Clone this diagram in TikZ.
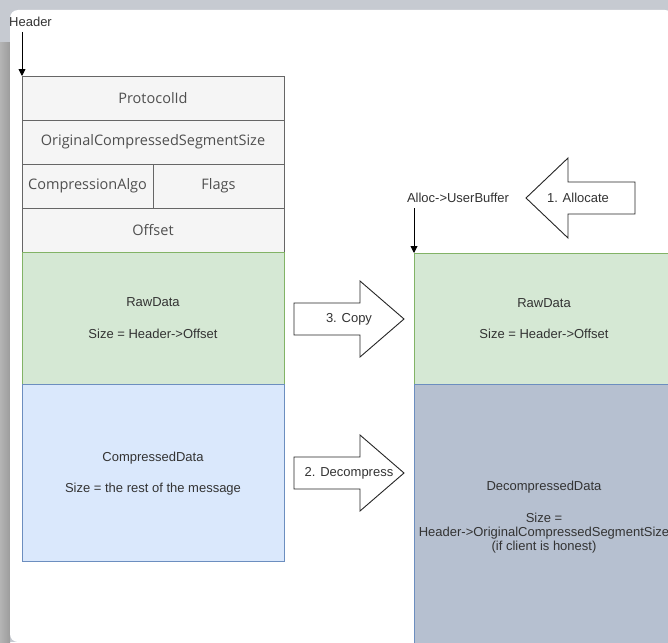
\documentclass[tikz,border=0pt]{standalone}
\usepackage{fontspec}
\setmainfont{Liberation Sans}
\newfontfamily\fieldfont{Open Sans}
\usetikzlibrary{arrows.meta}

\definecolor{frame}{HTML}{C6CAD1}
\definecolor{edgedark}{HTML}{9C9C9C}
\definecolor{edgelight}{HTML}{B4B4B4}
\definecolor{hdrfill}{HTML}{F5F5F5}
\definecolor{hdrline}{HTML}{666666}
\definecolor{grnfill}{HTML}{D5E8D4}
\definecolor{grnline}{HTML}{82B366}
\definecolor{blufill}{HTML}{DAE8FC}
\definecolor{bluline}{HTML}{6C8EBF}
\definecolor{outfill}{HTML}{B6C0D0}
\definecolor{txt}{HTML}{333333}
\definecolor{hdrtxt}{HTML}{4F4F4F}

\tikzset{
  field/.style={draw=hdrline, fill=hdrfill, line width=0.8pt},
  fieldtext/.style={font=\fieldfont\fontsize{14.5}{17}\selectfont, text=hdrtxt},
  label/.style={font=\fontsize{13}{15.5}\selectfont, text=txt, align=center},
  blockarrow/.style={draw=black!85, fill=white, line width=0.9pt, line join=miter},
  pointer/.style={draw=black, line width=0.9pt, -{Triangle[length=7pt,width=7pt]}},
}

\begin{document}
\begin{tikzpicture}[x=1pt, y=-1pt]
\useasboundingbox (0,0) rectangle (668,642);
\clip (0,0) rectangle (668,642);

% window frame around the canvas
\fill[frame] (0,0) rectangle (668,642);
\shade[left color=edgelight, right color=edgedark] (0,43) rectangle (10,642);
\fill[white, rounded corners=8pt] (10,10) rectangle (673,642);

% header fields of the incoming message
\draw[field] (22,76) rectangle (284,120);
\draw[field] (22,120) rectangle (284,164);
\draw[field] (22,164) rectangle (153,208);
\draw[field] (153,164) rectangle (284,208);
\draw[field] (22,208) rectangle (284,252);
\node[fieldtext] (pid) at (153,98) {ProtocolId};
\node[fieldtext] (ocss) at (153,142) {OriginalCompressedSegmentSize};
\node[fieldtext] (algo) at (87.5,186) {CompressionAlgo};
\node[fieldtext] (flags) at (218.5,186) {Flags};
\node[fieldtext] (off) at (153,230) {Offset};

% payload of the incoming message
\draw[fill=grnfill, draw=grnline, line width=0.8pt] (22,252) rectangle (284,384);
\draw[fill=blufill, draw=bluline, line width=0.8pt] (22,384) rectangle (284,561);
\node[label] (raw1) at (153,302) {RawData};
\node[label] (raw1s) at (153,334) {Size = Header->Offset};
\node[label] (cmp) at (153,458) {CompressedData};
\node[label] (cmps) at (153,489) {Size = the rest of the message};

% user buffer
\draw[fill=grnfill, draw=grnline, line width=0.8pt] (414,253) rectangle (680,384);
\draw[fill=outfill, draw=bluline, line width=0.8pt] (414,384) rectangle (680,660);
\node[label] (raw2) at (544,303) {RawData};
\node[label] (raw2s) at (544,334) {Size = Header->Offset};
\node[label] (dec) at (544,487) {DecompressedData};
\node[label] (decs) at (544,533) {Size =\\[-1.5pt]Header->OriginalCompressedSegmentSize\\[-1.5pt](if client is honest)};

% pointers
\node[label, anchor=west, inner sep=0pt] (hdr) at (9,22) {Header};
\coordinate (hdrtop) at (22,32);
\coordinate (hdrend) at (22,76);
\draw[pointer] (hdrtop) -- (hdrend);
\node[label, inner sep=0pt] (ubuf) at (458,198) {Alloc->UserBuffer};
\coordinate (ubtop) at (414,208);
\coordinate (ubend) at (414,253);
\draw[pointer] (ubtop) -- (ubend);

% step arrows
\draw[blockarrow] (526,198) -- (568,158) -- (568,182) -- (635,182) -- (635,214)
  -- (568,214) -- (568,238) -- cycle;
\node[label] (s1) at (578,198) {1. Allocate};
\draw[blockarrow] (294,303) -- (360,303) -- (360,281) -- (404,319) -- (360,357)
  -- (360,335) -- (294,335) -- cycle;
\node[label] (s3) at (349,319) {3. Copy};
\draw[blockarrow] (294,457) -- (360,457) -- (360,435) -- (404,473) -- (360,511)
  -- (360,489) -- (294,489) -- cycle;
\node[label] (s2) at (349,473) {2. Decompress};
\end{tikzpicture}
\end{document}
